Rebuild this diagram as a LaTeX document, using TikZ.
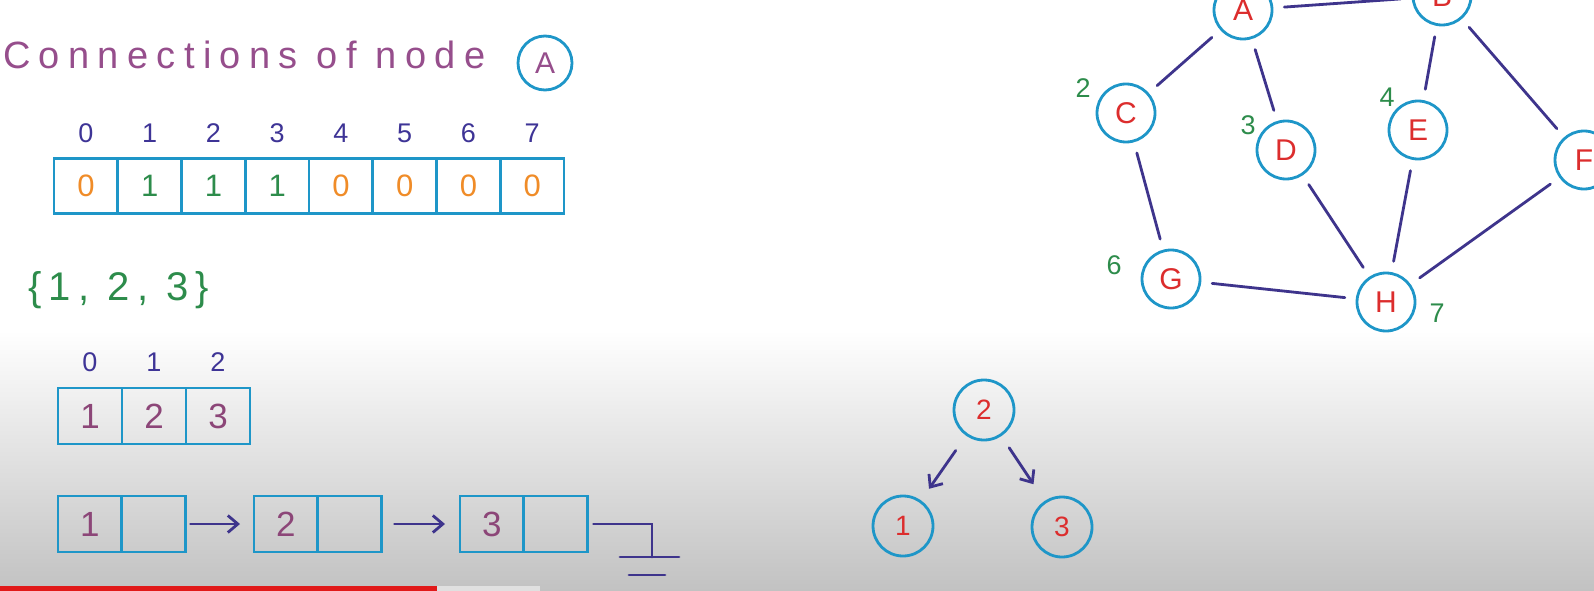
\documentclass[tikz,border=0pt]{standalone}
\usepackage{fontspec}
\setmainfont{Liberation Sans}
\usetikzlibrary{positioning,arrows.meta}
\definecolor{headc}{RGB}{150,78,140}
\definecolor{boxc}{RGB}{30,150,200}
\definecolor{idxc}{RGB}{62,52,150}
\definecolor{zeroc}{RGB}{240,140,40}
\definecolor{onec}{RGB}{45,140,75}
\definecolor{valc}{RGB}{140,70,120}
\definecolor{letc}{RGB}{220,45,45}
\definecolor{edgec}{RGB}{62,52,140}
\definecolor{barc}{RGB}{225,25,25}

\begin{document}
\begin{tikzpicture}[x=1pt,y=-1pt]
\tikzset{v/.style={circle,draw=boxc,line width=2.8pt,minimum size=58pt,inner sep=0pt,text=letc,font=\fontsize{30}{30}\selectfont},
  lab/.style={text=onec,inner sep=0pt,font=\fontsize{27}{27}\selectfont},
  cell/.style={rectangle,draw=boxc,line width=2.8pt,minimum width=63.75pt,minimum height=55pt,inner sep=0pt,outer sep=0pt,anchor=west,font=\fontsize{31}{31}\selectfont},
  idx/.style={text=idxc,inner sep=0pt,font=\fontsize{27}{27}\selectfont},
  link/.style={draw=edgec,line width=2.8pt,line cap=round,shorten <=11pt,shorten >=11pt},
  nxt/.style={draw=edgec,line width=2.8pt,line cap=round,-{Straight Barb[length=10pt,width=17pt]}}}
\useasboundingbox (0,0) rectangle (1594,591);
\fill[white] (0,0) rectangle (1594,591);
\shade[top color=white,bottom color=black!24] (0,330) rectangle (1594,591);
\fill[barc] (0,586) rectangle (437,591);
\fill[black!12] (437,586) rectangle (540,591);

\path (3,69) node[anchor=base west,inner sep=0pt,text=headc,font=\fontsize{38}{38}\selectfont\addfontfeatures{LetterSpace=22}] (head) {Connections of node};
\path (545,63) node[v,minimum size=54pt,text=headc] (hA) {A};

\foreach \v/\c [count=\i from 0] in {0/zeroc,1/onec,1/onec,1/onec,0/zeroc,0/zeroc,0/zeroc,0/zeroc}{
  \path (54+63.75*\i,186) node[cell,text=\c] (a\i) {\v};
  \node[idx,above=16pt of a\i] (ai\i) {\i};
}

\path (28,290) node[anchor=west,inner sep=0pt,text=onec,font=\fontsize{40}{40}\selectfont\addfontfeatures{LetterSpace=18}] (set) {\{1, 2, 3\}};

\foreach \v [count=\i from 0] in {1,2,3}{
  \path (58+64*\i,416) node[cell,minimum width=64pt,minimum height=56pt,text=valc,font=\fontsize{35}{35}\selectfont] (b\i) {\v};
  \node[idx,above=16pt of b\i] (bi\i) {\i};
}

\foreach \v/\x [count=\i] in {1/58,2/254,3/460}{
  \path (\x,524) node[cell,minimum height=56pt,text=valc,font=\fontsize{35}{35}\selectfont] (l\i) {\v};
  \node[cell,minimum height=56pt,right=0pt of l\i] (p\i) {};
}
\draw[nxt,shorten <=5pt,shorten >=14pt] (p1.east) -- (l2.west);
\draw[nxt,shorten <=13pt,shorten >=15pt] (p2.east) -- (l3.west);
\coordinate (nul) at (652,557);
\draw[draw=edgec,line width=2.8pt,line cap=round] ([xshift=6pt]p3.east) -| (nul);
\draw[draw=edgec,line width=2.8pt,line cap=round] ([xshift=-32pt]nul) -- ([xshift=27pt]nul);
\draw[draw=edgec,line width=2.8pt,line cap=round] ([xshift=-23pt,yshift=-18pt]nul) -- ([xshift=13pt,yshift=-18pt]nul);

\path (1243,10) node[v] (A) {A};
\path (1442,-4) node[v] (B) {B};
\path (1126,113) node[v] (C) {C};
\path (1286,150) node[v] (D) {D};
\path (1418,130) node[v] (E) {E};
\path (1584,160) node[v] (F) {F};
\path (1171,279) node[v] (G) {G};
\path (1386,302) node[v] (H) {H};
\node[lab] (nC) at (1083,88) {2};
\node[lab] (nD) at (1248,125) {3};
\node[lab] (nE) at (1387,97) {4};
\node[lab] (nF) at (1601,118) {5};
\node[lab] (nG) at (1114,265) {6};
\node[lab] (nH) at (1437,313) {7};
\foreach \a/\b in {A/B,A/C,A/D,B/E,B/F,C/G,D/H,E/H,F/H,G/H}
  \draw[link] (\a) -- (\b);

\path (984,410) node[v,minimum size=60pt,font=\fontsize{28}{28}\selectfont] (t2) {2};
\path (903,526) node[v,minimum size=60pt,font=\fontsize{28}{28}\selectfont] (t1) {1};
\path (1062,527) node[v,minimum size=60pt,font=\fontsize{28}{28}\selectfont] (t3) {3};
\draw[nxt,shorten <=18pt,shorten >=14pt] (t2) -- (t1);
\draw[nxt,shorten <=14pt,shorten >=20pt] (t2) -- (t3);
\end{tikzpicture}
\end{document}
